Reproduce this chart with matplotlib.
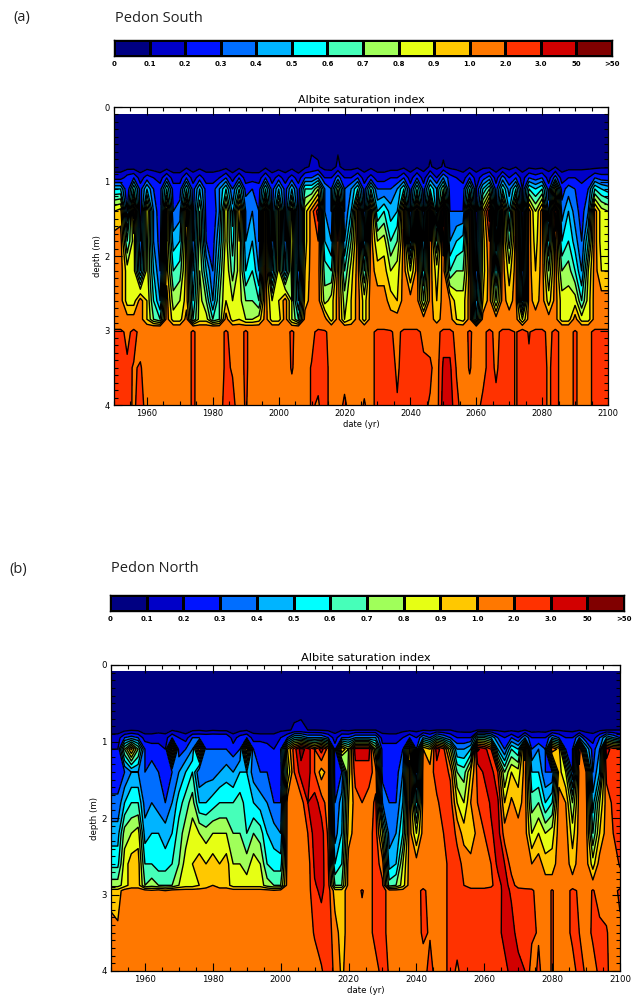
"""
Albite saturation index, pedons South and North
Values are class positions on the colour bar (10.5 = inside the 1.0-2.0 class)
"""

import numpy as np
import matplotlib
matplotlib.use('Agg')
import matplotlib.pyplot as plt
from matplotlib.colors import ListedColormap, BoundaryNorm

W, H = 641, 999

class_labels = ['0', '0.1', '0.2', '0.3', '0.4', '0.5', '0.6', '0.7', '0.8', '0.9',
                '1.0', '2.0', '3.0', '50', '>50']
class_colors = ['#000082', '#0000C8', '#0014FF', '#006EFF', '#00B4FF', '#00FFFF', '#46FFB9',
                '#A0FF5A', '#E6FF14', '#FFC800', '#FF7800', '#FF3200', '#D20000', '#800000']

years = list(range(1950, 2101, 2))

# Pedon South, one list per depth, 1950 to 2100 every two years
s_depths = [0.1, 0.8, 0.95, 1.1, 1.4, 1.8, 2.2, 2.6, 2.85, 2.95, 3.02, 3.5, 4.0]
s_010 = [0.3] * 76
s_080 = [.5,.5,.5,.4,.4,.5,.4,.4,.4,.4, .4,.7,.5,.6,.5,.5,.4,.6,.4,.6,
         .5,.4,.4,.7,.4,.4,.4,.6,.3,.7, 1.2,1.1,.6,.5,1.2,.6,.6,.7,.5,.7,
         .5,.5,.5,.5,.7,.5,.8,.6,1.1,.7, 1.1,.7,.6,.5,.8,.5,.7,.7,.5,.8,
         .6,.9,.5,.7,.6,.7,.6,.9,.5,.6, .6,.8,.7,.6,.8,.8]
s_095 = [1.5,1.5,2.5,3,1.5,2.5,2,1.5,3,1.5, 1.5,3,1.5,2.5,1.5,1.5,2,3,1.5,3,
         1.5,1.5,1.5,3,1.5,2.5,1.5,2.5,1.5,3, 3,4,2,2,3.5,2,2,3,1.5,2.5,
         1.5,1.5,2,2,3,1.5,3,1.5,3.5,2, 4,2.5,2,1.5,3,1.5,2.5,3.5,1.5,3.5,
         2,3,1.5,3,2.5,3,1.5,3.5,1.5,2, 2,1.5,2,3,2.5,2.5]
s_110 = [5,5,2,6,2.5,5,3,2.5,6,2.5, 2.5,6,2.5,5,2.5,2.5,4,6,3,6,
         2.5,3,2.5,6,2.5,5,2.5,5,2.5,6, 6,8,4,3,7,3,4,6,2.5,6,
         3,3,3,4,6,2.5,6,2.5,6,4, 7,2.5,3,2.5,6,2,5,7,2.5,6,
         3.5,6,2,6,5,6,2.5,8,2.5,3.5, 3,2.5,3,6,5,4.5]
s_140 = [9,9.5,3,10.5,2,9,4,2,9.5,3, 3.5,10.5,2.5,7,2.5,2,4,9,4.5,10,
         4,4,3,10.5,2.5,8.5,2.5,8.5,2.5,8.5, 10.5,12.5,4,3,12.5,3,5,10.5,3,10.5,
         5,6,4.5,5,10.5,3,10.5,3,11.5,4, 12.5,3,3,3,10.5,2,9,12.5,2.5,10.5,
         5,10.5,2,10.5,8,10.5,3.5,12,3.5,5, 3.5,2.5,4,10.5,8.5,8]
s_180 = [10.5,10.5,6,8.5,3,8.5,4,2.5,9,4.5, 5,9.5,3,7.5,3,2.5,5,8.5,5.5,9,
         4,5,3,10.5,3,8.5,3,9,2.5,8.5, 10.5,11,5,4,11,4,7,10.5,4,10.5,
         8,8.5,6,7,10.5,4,10.5,4,11,6, 11.5,4,5,5.5,10.5,2.5,8.5,11,3.5,10.5,
         6.5,10.5,2.5,10.5,8.5,10.5,5,10.5,5,6, 4.5,3,6,10.5,8.5,8.5]
s_220 = [10.5,10.5,8.5,8.5,4,8.5,5,3,9.5,6, 6.5,9.5,4,8,5,3,6,9,6.5,8.5,
         5,6,4,10.5,4,8.5,4,8.5,3,9, 10.5,10.5,6.5,6,10.5,6,8.5,10.5,6,10.5,
         9.5,9.5,8,8.5,10.5,8,10.5,5,10.5,8.5, 10.5,6,7,7,10.5,3,8.5,10.5,5,10.5,
         8.5,10.5,3,10.5,9,10.5,7,10.5,7,7.5, 6,4,8,10.5,9,9]
s_260 = [10.5,10.5,8.5,8.5,10.5,9,6,4,10.5,7.5, 8,9.5,5,8.5,7,4,7,9,8,8.5,
         7,7,6,10.5,8,9,10.5,8,4,9.5, 10.5,10.5,7.5,8.5,10.5,7.5,9,10.5,8.5,10.5,
         10.5,10.5,9.5,9,10.5,10.5,10.5,7,10.5,9, 10.5,10,8.5,8.5,10.5,4,9,10.5,7,10.5,
         9.5,10.5,4,10.5,9.5,10.5,8.5,10.5,8.5,8.5, 8.5,6,8.5,10.5,10.5,10.5]
s_285 = [10.5,10.5,10.5,10.5,10.5,9,7,6,10.5,8.5, 8.5,10.5,6,8.5,8.5,6,7,10.5,8.5,9,
         8,8,8.5,10.5,8.5,8.5,10.5,8,6,10.5, 10.5,10.5,10.5,8.5,10.5,8,9,10.5,8.5,10.5,
         10.5,10.5,10.5,10.5,10.5,10.5,10.5,10.5,10.5,9.5, 10.5,10.5,9,8.5,10.5,5,10.5,10.5,10.5,10.5,
         10.5,10.5,8,10.5,10.5,10.5,10.5,10.5,8.5,8.5, 10.5,8.5,8.5,10.5,10.5,10.5]
s_295 = [10.5] * 76
s_302 = [11.5,11.5,10.5,11.5,10.5,10.5,10.5,10.5,10.5,10.5, 10.5,10.5,11.2,10.5,10.5,10.5,10.5,11.2,10.5,10.5,
         11.2,10.5,10.5,10.5,10.5,10.5,10.5,11.2,10.5,10.5, 10.5,11.5,11.2,10.5,10.5,10.5,10.5,10.5,10.5,10.5,
         11.5,11.5,11.2,10.5,11.5,11.5,11.5,10.5,10.5,10.5, 11.5,11.5,10.5,10.5,11.2,10.5,10.5,11.5,10.5,11.5,
         11.5,10.9,11.5,10.9,11.5,11.5,10.5,11.5,10.5,10.5, 11.2,10.5,10.5,11.5,11.5,11.5]
s_350 = [11.5,11.5,11.3,10.9,11.1,10.5,10.5,10.5,10.5,10.5, 10.5,10.5,11.2,10.5,10.5,10.5,10.5,11.2,10.9,10.5,
         11.2,10.5,10.5,10.5,10.5,10.5,10.5,11.1,10.5,10.5, 11.1,11.3,11.5,10.5,10.5,10.5,10.5,10.5,10.5,10.5,
         11.5,11.5,11.5,10.8,11.5,11.5,11.5,11.4,11.2,10.5, 12.2,12.2,10.9,10.5,11.1,10.5,10.5,11.5,10.8,11.5,
         11.5,10.9,11.5,11.2,11.5,11.5,10.8,11.5,10.5,10.5, 11.2,10.5,10.5,11.5,11.5,11.5]
s_400 = [11.5,11.5,11.5,10.8,11.5,10.5,10.5,10.5,10.5,10.5, 10.5,10.5,11.2,10.5,10.5,10.5,10.5,11.5,11.3,10.5,
         11.1,10.5,10.5,10.5,10.5,10.5,10.5,10.5,10.5,10.5, 11.1,10.9,11.5,10.5,10.5,11.2,10.5,10.5,11.1,10.5,
         11.5,11.5,11.5,11.1,11.5,11.5,11.5,11.2,10.9,10.5, 12.5,12.5,11.3,10.5,10.5,10.5,11.3,11.5,11.3,11.5,
         11.5,10.9,11.5,11,11.5,11.5,10.8,11.5,10.5,10.5, 11.2,10.5,10.5,11.5,11.5,11.5]
south_rows = [s_010, s_080, s_095, s_110, s_140, s_180, s_220, s_260, s_285, s_295, s_302, s_350, s_400]

# Pedon North, same years
n_depths = [0.08, 0.85, 0.95, 1.1, 1.4, 1.8, 2.2, 2.6, 2.88, 2.95, 3.5, 4.0]
n_008 = [0.3] * 76
n_085 = [.5,.5,.7,.9,.8,.5,.5,.7,.5,.9, .7,.5,.8,.9,.7,.9,.8,.8,.5,.7,
         .9,.6,.5,.5,.5,.8,.9,1.1,1.15,1, 1,.9,.8,.6,.9,.8,1,1,1,1,
         .6,.5,.5,.7,.8,.7,.9,.8,1,1, 1,.7,.6,.6,1,1,1,.8,.7,.8,
         .7,1,.6,.7,.6,.9,.9,.8,.7,.9, .6,.6,.8,1,1,1]
n_095 = [1.5,1.5,3,3.5,3,1.5,1.5,1.5,1.5,3, 2,1.5,3,3,3,3,3,3,1.5,2.5,
         3,1.5,1.5,1.5,1.5,2,3,5,5,4, 4,4,3,1.5,3,3,4,4,4,4,
         1.5,1.5,1.5,2,3,2,4,3,5,4, 3,2,2,2,6,6,5,3,2,3,
         2,4,2,2,2,4,3,2,2,4, 2,1.5,3,5,4,3]
n_110 = [2,2,7,10.2,7,3,2.5,2.5,2,10, 2.5,3,4,10,3,3,3,3,2.5,3,
         10,3,3,2.5,2,3,9,11.5,13.5,12.5, 11,12.5,10.5,2.5,10,8,12.5,12.5,12.5,8,
         2.5,2.5,2.5,3,9.5,3,10,9,12.5,11.3, 8,4,4,5,13.2,12.5,11,5,3,6,
         5,11.5,3,4,3,11,9.5,3,3,12, 5,2.5,4,12.5,11.5,11.5]
n_140 = [2.5,2.5,3,4,4,3,3.5,3,2.5,3, 4,5,6,3,3.5,3.5,4,4.5,4,5,
         5,3.5,3,3,2.5,2.5,8,11,12.5,12.5, 11,9.5,10.5,2.5,3,8.5,11.5,11.5,11.5,10.5,
         2.5,2.5,2.5,4,10.5,3,10.5,10.5,11.5,11.5, 10.8,7,6.5,9,11.3,12.2,12.5,11,7,9,
         8.5,10.5,5,5,3,3,9.5,8,3,10.5, 10,3,5,11.3,11.5,11.4]
n_180 = [3.2,3.2,5,6,6,3.5,4,3.5,3,4, 5.5,6.5,7.5,5,5,5.5,6,6,6,6.5,
         5.5,5,4.5,4,3,3,10.5,10.5,10.5,12, 12.5,11.5,10.5,3,4.5,9,10.5,11,10.5,11.2,
         4,3,3,5,10.5,5,10.5,10.5,10.8,11.5, 11.5,9,8,10,11,11.3,12.2,12.2,9,10.2,
         9.5,10.5,6.5,7,5,6,10.5,10,7,10.5, 10.5,4.5,8,10.5,11.2,11.4]
n_220 = [4.5,4.5,7.5,8,8.5,4.5,5,5,4.5,5, 6.5,7.5,8.5,8,7.5,8,8,8,7,7,
         6,7,6.5,5,4.5,4,10.5,10.5,10.5,11, 12.5,12.5,10.8,3.5,5,9.5,10.5,10.5,10.5,11.5,
         8,3.5,4,6,10.5,8,10.5,10.5,10.5,11, 11.5,10.8,9.5,9,10.5,11,11.8,12.5,10.5,10.5,
         10.5,10.5,8,9,8,8.5,10.5,10.5,8.5,10.5, 10.5,6,9,10.5,11,11.4]
n_260 = [5.7,5.7,8.5,9.5,9.5,6,6,5.5,5.5,6, 7,8.5,9,9.5,9,9.5,9,9.5,8,8,
         7.5,8.5,8,6,5.5,5.5,10.5,10.5,10.5,10.5, 12.2,12.5,11.1,5,6,10.5,10.5,10.5,10.5,11.5,
         10.5,4.5,5,8,10.5,10.5,10.5,10.5,10.5,10.5, 11.5,11.3,10.8,10.5,10.5,10.5,11,12.3,12,10.5,
         10.5,10.5,10,10.5,9.5,9.5,10.5,10.5,9.5,10.5, 10.5,8.5,10.5,10.5,10.5,11.1]
n_288 = [7.5,7.5,8.5,9.5,9.5,7,7.5,7,7,7, 8,8.5,8.5,9,9.5,10,9.5,9.5,8.5,8.5,
         8.5,8.5,8.5,7.5,7,7,10.5,10.5,10.5,10.5, 11.9,12.3,11.5,7,7,10.5,10.5,10.5,10.5,11.5,
         11.2,6.5,7,8.5,10.5,10.5,10.5,10.5,10.5,10.5, 11.5,11.3,11,10.5,10.5,10.5,10.8,11.5,12.5,11.5,
         10.5,10.5,10.5,10.5,10.5,10.5,10.5,10.5,10.5,10.5, 10.5,10.5,10.5,10.5,10.5,10.5]
n_295 = [9.5,9.5,10.5,10.5,10.5,10.5,10.2,10.5,10,10.5, 10.5,10.5,10.5,10.5,10.5,10.5,10.5,10.5,10.5,10.5,
         10.5,10.5,10.5,10.5,10.2,10.5,10.5,10.5,10.5,10.5, 11.8,12.2,11.5,9.5,9.5,10.5,10.5,11.1,10.5,11.5,
         11.5,10.5,10.5,10.5,10.5,10.5,11.3,10.5,10.5,10.5, 11.5,11.5,11.5,11.4,11.4,11.4,11.4,11.4,12.5,11.8,
         11.5,11.3,11.2,10.5,10.5,11.1,10.5,10.5,11.3,10.8, 10.5,11.1,10.5,10.5,10.5,11.3]
n_350 = [10.5,10.2,10.5,10.5,10.5,10.5,10.5,10.5,10.5,10.5, 10.5,10.5,10.5,10.5,10.5,10.5,10.5,10.5,10.5,10.5,
         10.5,10.5,10.5,10.5,10.5,10.5,10.5,10.5,10.5,10.5, 11.1,11.5,11.5,10.5,9.5,10.5,10.5,10.5,10.5,11.5,
         11.5,10.5,10.5,10.5,10.5,10.5,11.2,10.9,10.5,10.5, 11.5,11.5,11.5,11.5,11.5,11.5,11.5,11.5,12.5,12.5,
         11.5,11.5,11.2,10.9,10.5,11.1,10.5,10.5,11.3,11, 10.5,11.2,11.3,11.1,10.5,10.7]
n_400 = [10.5,10.5,10.5,10.5,10.5,10.5,10.5,10.5,10.5,10.5, 10.5,10.5,10.5,10.5,10.5,10.5,10.5,10.5,10.5,10.5,
         10.5,10.5,10.5,10.5,10.5,10.5,10.5,10.5,10.5,10.5, 10.5,10.9,11.5,10.8,9.8,10.5,10.5,10.5,10.5,10.5,
         11.5,10.9,10.5,10.5,10.5,10.5,10.5,11.4,10.5,10.5, 11.5,10.8,11.5,11.5,11.5,11.5,11.5,11.5,11.5,12.5,
         12.5,12,10.5,11.2,10.5,11.1,10.5,10.5,10.5,11.5, 10.8,10.5,11.3,11.2,10.5,10.5]
north_rows = [n_008, n_085, n_095, n_110, n_140, n_180, n_220, n_260, n_288, n_295, n_350, n_400]


def box(x0, y0, x1, y1):
    """pixel box from the top left corner to a figure rectangle"""
    return [x0 / W, 1 - y1 / H, (x1 - x0) / W, (y1 - y0) / H]


def draw_colorbar(fig, rect, label_size):
    ax = fig.add_axes(box(*rect))
    n = len(class_colors)
    ax.pcolormesh(np.arange(n + 1), [0, 1], np.arange(n).reshape(1, n),
                  cmap=ListedColormap(class_colors), vmin=-0.5, vmax=n - 0.5,
                  edgecolors='black', linewidth=0.8)
    ax.set_xlim(0, n)
    ax.set_ylim(0, 1)
    ax.set_yticks([])
    ax.set_xticks(np.arange(n + 1))
    ax.set_xticklabels(class_labels, fontsize=label_size, fontweight='bold')
    ax.tick_params(axis='x', length=0, pad=3.5)
    for s in ax.spines.values():
        s.set_linewidth(1.0)


def draw_panel(fig, rect, depths, rows, size):
    ax = fig.add_axes(box(*rect))
    z = np.array(rows, dtype=float)
    levels = np.arange(0, 15)
    cmap = ListedColormap(class_colors)
    ax.contourf(years, depths, z, levels=levels, cmap=cmap,
                norm=BoundaryNorm(levels, cmap.N))
    ax.contour(years, depths, z, levels=levels[1:], colors='black', linewidths=1.0)

    ax.set_xlim(1950, 2100)
    ax.set_ylim(4, 0)
    ax.set_xticks(np.arange(1960, 2101, 20))
    ax.set_xticks(np.arange(1950, 2101, 5), minor=True)
    ax.set_yticks(np.arange(0, 5))
    ax.set_yticks(np.arange(0, 4.01, 0.1), minor=True)
    ax.tick_params(which='major', direction='in', top=True, right=True, length=6,
                   width=0.8, labelsize=size, pad=3)
    ax.tick_params(which='minor', direction='in', top=True, right=True, length=3, width=0.8)
    ax.set_title('Albite saturation index', fontsize=size + 2, pad=3)
    ax.set_xlabel('date (yr)', fontsize=size, labelpad=1)
    ax.set_ylabel('depth (m)', fontsize=size, labelpad=2)
    for s in ax.spines.values():
        s.set_linewidth(0.9)


fig = plt.figure(figsize=(W / 100, H / 100), dpi=100)

head = dict(family='Open Sans', fontsize=10.5, color='#222222', va='center')
fig.text(13 / W, 1 - 18 / H, '(a)', **head)
fig.text(115 / W, 1 - 18 / H, 'Pedon South', **head)
fig.text(9 / W, 1 - 569 / H, '(b)', **head)
fig.text(111 / W, 1 - 569 / H, 'Pedon North', **head)

draw_colorbar(fig, (114, 40, 612, 56), 5)
draw_panel(fig, (114, 107, 608, 405), s_depths, south_rows, 6)

draw_colorbar(fig, (110, 595, 624, 611), 5)
draw_panel(fig, (111, 665, 620, 971), n_depths, north_rows, 6.2)

fig.savefig('out.png', dpi=100)
